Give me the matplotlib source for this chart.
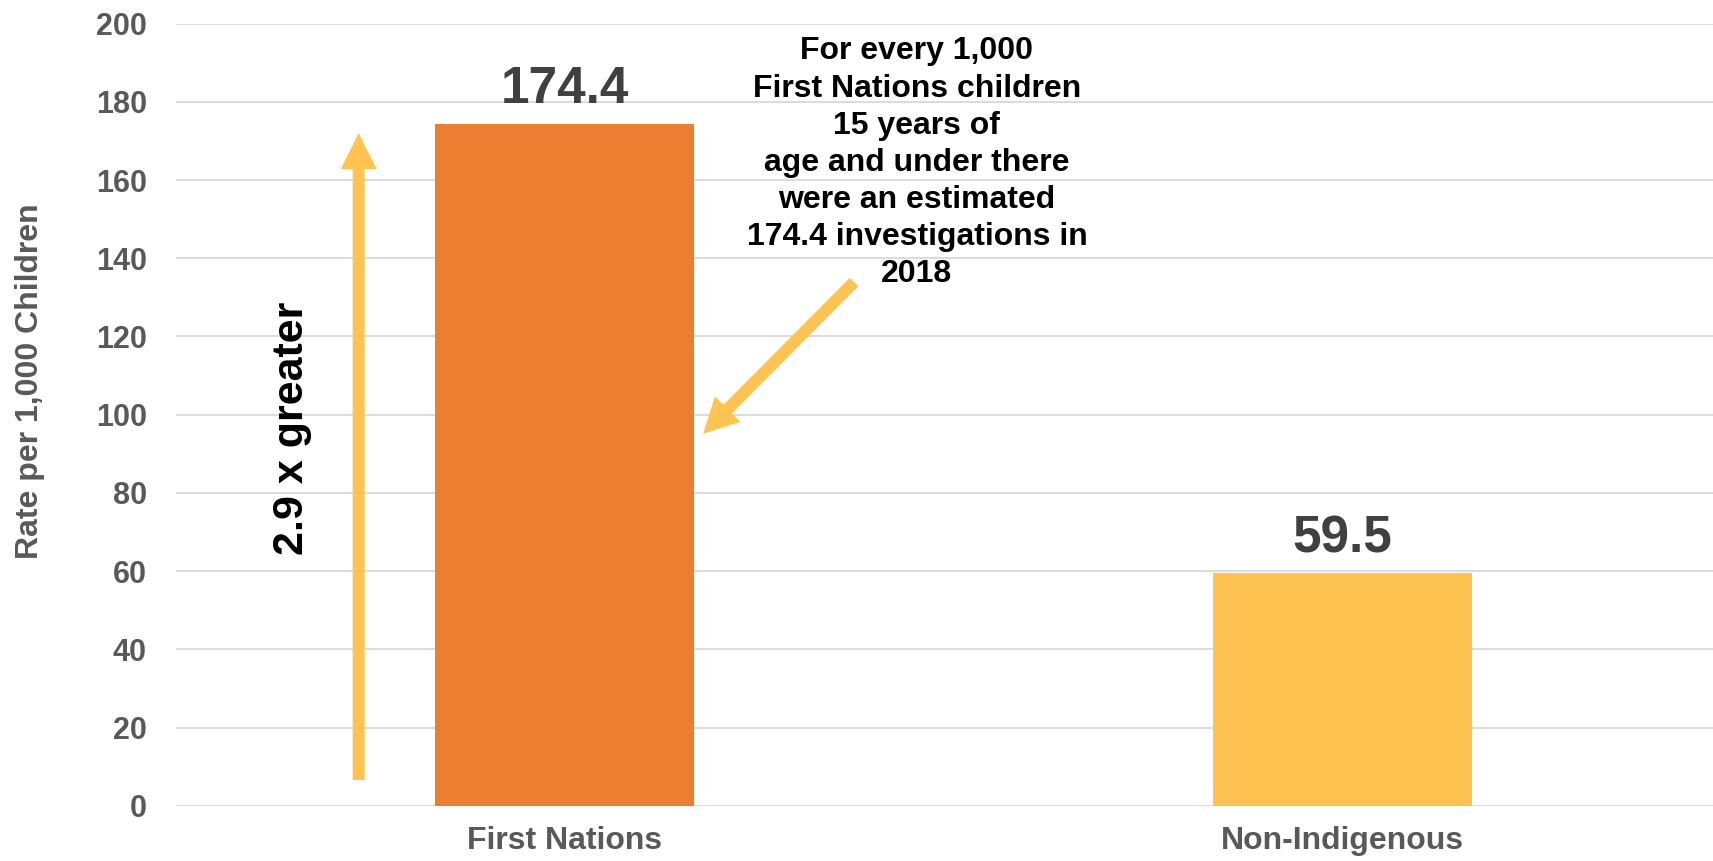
import matplotlib.pyplot as plt
from matplotlib.patches import FancyArrowPatch

# rate of investigations per 1,000 children, 2018
groups = ['First Nations', 'Non-Indigenous']
rates = [174.4, 59.5]
bar_colors = ['#ED7D31', '#FEC250']
ratio_text = '2.9 x greater'
note_text = ('For every 1,000\nFirst Nations children\n15 years of\n'
             'age and under there\nwere an estimated\n174.4 investigations in\n2018')

plt.rcParams['font.family'] = ['Liberation Sans', 'DejaVu Sans']
plt.rcParams['font.weight'] = 'bold'

fig = plt.figure(figsize=(17.13, 8.61), dpi=100)
ax = fig.add_axes([0.1027, 0.0642, 0.9078, 0.9083])

x = range(len(groups))
bars = ax.bar(x, rates, width=0.333, color=bar_colors, zorder=2)

for xi, val in zip(x, rates):
    ax.annotate(f'{val:.1f}', (xi, val), xytext=(0, 15), textcoords='offset points',
                ha='center', va='baseline', fontsize=37, fontweight='bold',
                color='#404040')

ax.set_xlim(-0.5, 1.5)
ax.set_ylim(0, 200)
ax.set_yticks(range(0, 201, 20))
ax.set_xticks(list(x))
ax.set_xticklabels(groups)
ax.tick_params(axis='y', length=0, pad=21, labelsize=22, labelcolor='#595959')
ax.tick_params(axis='x', length=0, pad=14.5, labelsize=23, labelcolor='#595959')
for lab in ax.get_xticklabels() + ax.get_yticklabels():
    lab.set_fontweight('bold')

ax.grid(axis='y', color='#D9D9D9', linewidth=1.3, zorder=0)
ax.set_axisbelow(True)
for s in ax.spines.values():
    s.set_visible(False)

fig.text(30 / 1713, 1 - 381 / 861, 'Rate per 1,000 Children', rotation=90,
         ha='center', va='center', fontsize=23, fontweight='bold', color='#595959')

arrow_yellow = '#FFC34F'

# upward arrow beside the first bar
up = FancyArrowPatch((-0.265, 6.6), (-0.265, 172),
                     arrowstyle='simple,head_width=25.9,head_length=25.9,tail_width=8.6',
                     mutation_scale=1, color=arrow_yellow, lw=0,
                     shrinkA=0, shrinkB=0, zorder=3)
ax.add_patch(up)
ax.text(-0.351, 96.5, ratio_text, rotation=90, ha='center', va='center',
        fontsize=31, fontweight='bold', color='black')

# pointer from the note to the first bar
diag = FancyArrowPatch((0.372, 133.9), (0.178, 95.1),
                       arrowstyle='simple,head_width=25.9,head_length=25.1,tail_width=8.6',
                       mutation_scale=1, color=arrow_yellow, lw=0,
                       shrinkA=0, shrinkB=0, zorder=3)
ax.add_patch(diag)
ax.text(0.453, 164.4, note_text, ha='center', va='center', fontsize=23,
        fontweight='bold', color='black', linespacing=1.31)

fig.savefig('out.png', dpi=100)
